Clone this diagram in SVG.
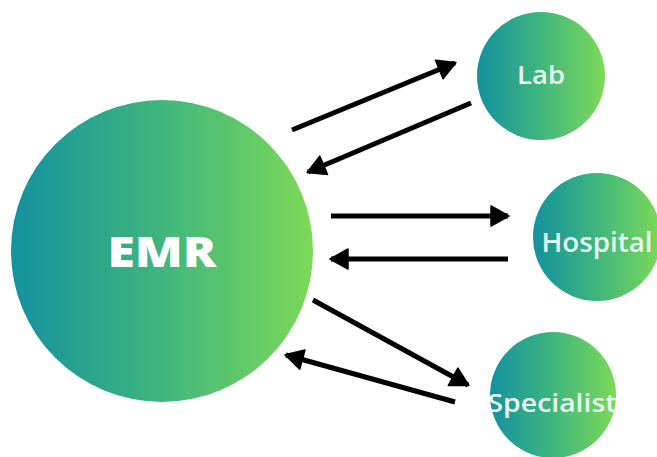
<svg xmlns="http://www.w3.org/2000/svg" width="657" height="457" viewBox="0 0 657 457">
<style>
.lbl{font-family:"Open Sans","Liberation Sans",Arial,sans-serif;font-weight:600;fill:#e8f8ef;text-anchor:middle}
.big{font-family:"Open Sans","Liberation Sans",Arial,sans-serif;font-weight:800;fill:#ffffff;text-anchor:middle}
.arr{stroke:#000;stroke-width:5;fill:none;marker-end:url(#ah)}
</style>
<defs>
<linearGradient id="g" x1="0" y1="0" x2="1" y2="0">
<stop offset="0" stop-color="#14919f"/>
<stop offset="0.5" stop-color="#3fb67d"/>
<stop offset="1" stop-color="#7dd957"/>
</linearGradient>
<marker id="ah" markerUnits="userSpaceOnUse" markerWidth="24" markerHeight="24" viewBox="0 0 24 24" refX="20" refY="12" orient="auto">
<path d="M3,2 L21,12 L3,22 Z" fill="#000" stroke="#000" stroke-width="1.5" stroke-linejoin="round"/>
</marker>
</defs>
<rect width="657" height="457" fill="#fff"/>
<g id="emr">
<circle cx="162" cy="251" r="151" fill="url(#g)"/>
<text class="big" x="162" y="267" font-size="42" textLength="109" lengthAdjust="spacingAndGlyphs">EMR</text>
</g>
<g id="lab">
<circle cx="541" cy="76" r="64" fill="url(#g)"/>
<text class="lbl" x="541" y="84" font-size="26" textLength="48" lengthAdjust="spacingAndGlyphs">Lab</text>
</g>
<g id="hospital">
<circle cx="597" cy="237" r="64" fill="url(#g)"/>
<text class="lbl" x="597" y="252" font-size="27" textLength="111" lengthAdjust="spacingAndGlyphs">Hospital</text>
</g>
<g id="specialist">
<circle cx="553" cy="395" r="63" fill="url(#g)"/>
<text class="lbl" x="552" y="412" font-size="26" textLength="129" lengthAdjust="spacingAndGlyphs">Specialist</text>
</g>
<g id="connectors">
<line class="arr" x1="292" y1="130" x2="455" y2="63"/>
<line class="arr" x1="471" y1="103" x2="308" y2="172"/>
<line class="arr" x1="331" y1="216" x2="508" y2="216"/>
<line class="arr" x1="508" y1="259" x2="331" y2="259"/>
<line class="arr" x1="313" y1="300" x2="468" y2="385"/>
<line class="arr" x1="455" y1="402" x2="286" y2="355"/>
</g>
</svg>
